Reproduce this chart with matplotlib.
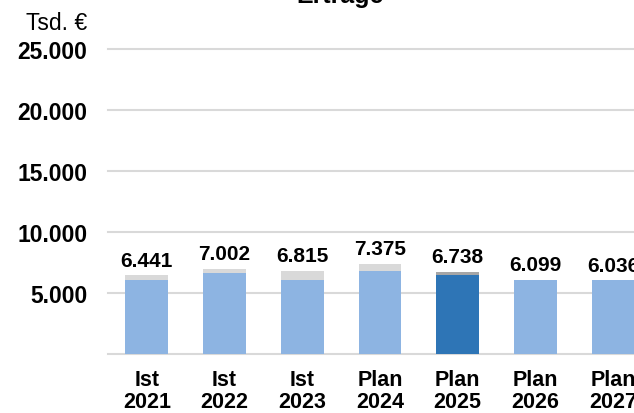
import matplotlib.pyplot as plt

plt.rcParams['font.family'] = ['Liberation Sans', 'DejaVu Sans']

# categories and values (Tsd. EUR)
labels = ['Ist\n2021', 'Ist\n2022', 'Ist\n2023', 'Plan\n2024', 'Plan\n2025', 'Plan\n2026', 'Plan\n2027']
main_part = [6060, 6664, 6066, 6828, 6500, 6099, 6036]
other_part = [381, 338, 749, 547, 238, 0, 0]
totals = [6441, 7002, 6815, 7375, 6738, 6099, 6036]
highlight = 4  # Plan 2025

light_blue = '#8DB4E2'
dark_blue = '#2E75B6'
light_gray = '#D9D9D9'
dark_gray = '#A6A6A6'

fig = plt.figure(figsize=(6.34, 4.14), dpi=100)
ax = fig.add_axes([108 / 634, 59 / 414, 544 / 634, 305 / 414])

x = list(range(len(labels)))
main_colors = [dark_blue if i == highlight else light_blue for i in x]
top_colors = [dark_gray if i == highlight else light_gray for i in x]

ax.bar(x, main_part, width=0.55, color=main_colors, zorder=3)
ax.bar(x, other_part, width=0.55, bottom=main_part, color=top_colors, zorder=3)

for i, t in zip(x, totals):
    ax.annotate(f'{t:,}'.replace(',', '.'), (i, t), xytext=(0, 4), textcoords='offset points',
                ha='center', va='bottom', fontsize=15, fontweight='bold', annotation_clip=False)

ax.set_xlim(-0.5, len(labels) - 0.5)
ax.set_ylim(0, 25000)
ax.set_yticks([0, 5000, 10000, 15000, 20000, 25000])
ax.set_yticklabels(['', '5.000', '10.000', '15.000', '20.000', '25.000'],
                   fontsize=16.5, fontweight='bold')
ax.set_xticks(x)
ax.set_xticklabels(labels, fontsize=15.5, fontweight='bold', linespacing=1.05)
ax.tick_params(axis='y', length=0, pad=15)
ax.tick_params(axis='x', length=0, pad=11)

ax.grid(axis='y', color='#D9D9D9', linewidth=1.5, zorder=0)
for gl in ax.get_ygridlines():
    gl.set_clip_on(False)
for s in ax.spines.values():
    s.set_visible(False)

fig.text(87 / 634, 1 - 23 / 414, 'Tsd. €', ha='right', va='center', fontsize=16.5)
fig.text(340 / 634, 1 - 3 / 414, 'Erträge', ha='center', va='baseline', fontsize=18, fontweight='bold')

fig.savefig('out.png', dpi=100)
